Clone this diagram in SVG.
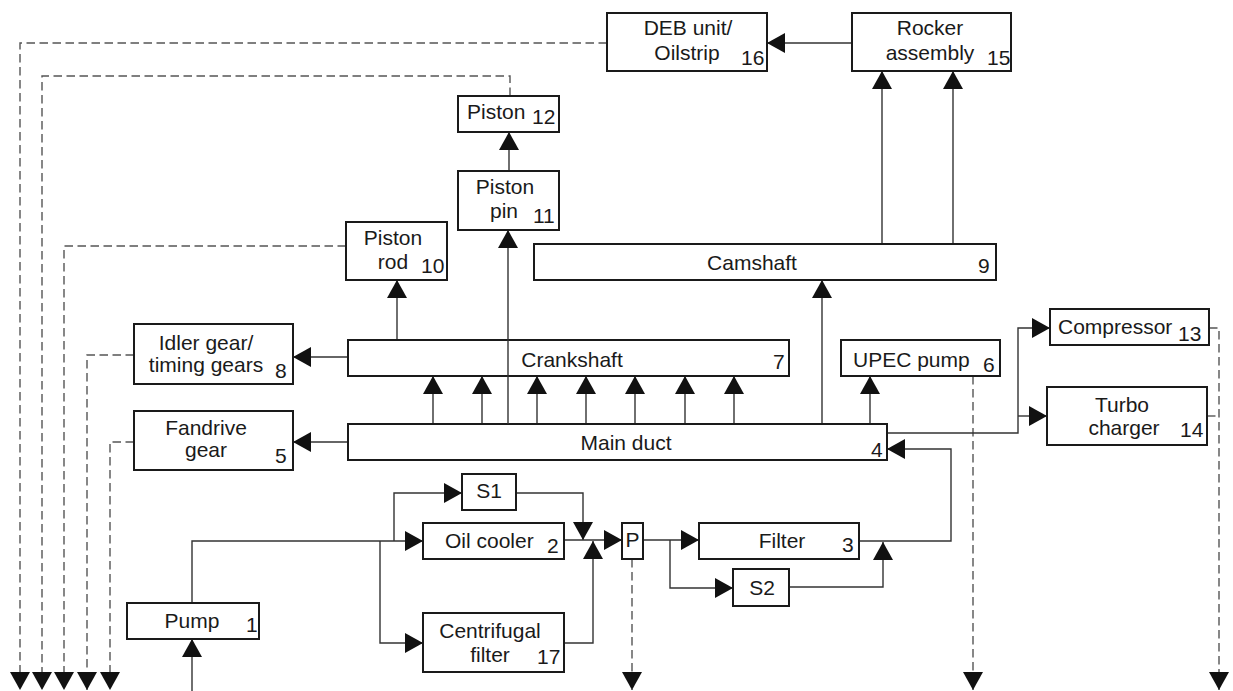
<svg xmlns="http://www.w3.org/2000/svg" width="1233" height="691" viewBox="0 0 1233 691">
  <style>
    .box { fill: #fff; stroke: #1a1a1a; stroke-width: 2; }
    .lbl { font-family: "Liberation Sans", Arial, sans-serif; font-size: 21px; fill: #1a1a1a; }
    .c { text-anchor: middle; }
    .num { font-family: "Liberation Sans", Arial, sans-serif; font-size: 21px; fill: #1a1a1a; }
    .flow { fill: none; stroke: #333; stroke-width: 1.4; }
    .ret { fill: none; stroke: #555; stroke-width: 1.4; stroke-dasharray: 8.5 4.5; }
    .arr { marker-end: url(#head); }
  </style>
  <defs>
    <marker id="head" markerUnits="userSpaceOnUse" viewBox="0 0 18 20" markerWidth="18" markerHeight="20" refX="18" refY="10" orient="auto">
      <path d="M0,0 L18,10 L0,20 Z" fill="#111"/>
    </marker>
  </defs>

  <rect width="1233" height="691" fill="#fff"/>

  <!-- connectors -->
  <g id="connectors">
    <!-- oil return lines to sump (dashed) -->
    <path class="ret arr" d="M607,43 H20 V690"/>
    <path class="ret arr" d="M510,96 V76 H42 V690"/>
    <path class="ret arr" d="M346,246 H64 V690"/>
    <path class="ret arr" d="M134,355 H87 V690"/>
    <path class="ret arr" d="M134,442 H110 V690"/>
    <path class="ret arr" d="M632,559 V690"/>
    <path class="ret arr" d="M973,376 V690"/>
    <path class="ret arr" d="M1209,328 H1219 V690"/>
    <path class="ret" d="M1207,416 H1219"/>

    <!-- pressure feed (solid) -->
    <path class="flow arr" d="M192,691 V639"/>
    <path class="flow arr" d="M192,603 V541 H423"/>
    <path class="flow arr" d="M394,541 V493 H462"/>
    <path class="flow arr" d="M380,541 V643 H423"/>
    <path class="flow arr" d="M516,493 H583 V540"/>
    <path class="flow arr" d="M564,643 H593 V541"/>
    <path class="flow arr" d="M564,540 H622"/>
    <path class="flow arr" d="M643,540 H699"/>
    <path class="flow arr" d="M670,540 V588 H733"/>
    <path class="flow arr" d="M789,587 H883 V542"/>
    <path class="flow arr" d="M859,541 H951 V449 H887"/>

    <!-- main duct outlets -->
    <path class="flow arr" d="M887,433 H1018 V328 H1050"/>
    <path class="flow arr" d="M1018,416 H1047"/>
    <path class="flow arr" d="M870,424 V376"/>
    <path class="flow arr" d="M822,424 V280"/>
    <path class="flow arr" d="M348,442 H293"/>
    <path class="flow arr" d="M433,424 V376"/>
    <path class="flow arr" d="M482,424 V376"/>
    <path class="flow arr" d="M537,424 V376"/>
    <path class="flow arr" d="M586,424 V376"/>
    <path class="flow arr" d="M635,424 V376"/>
    <path class="flow arr" d="M685,424 V376"/>
    <path class="flow arr" d="M734,424 V376"/>

    <!-- crankshaft outlets -->
    <path class="flow arr" d="M348,357 H293"/>
    <path class="flow arr" d="M397,340 V280"/>

    <!-- camshaft to rocker, rocker to DEB -->
    <path class="flow arr" d="M882,244 V71"/>
    <path class="flow arr" d="M953,244 V71"/>
    <path class="flow arr" d="M852,43 H767"/>

    <!-- piston pin to piston -->
    <path class="flow arr" d="M509,171 V132"/>
  </g>

  <g id="n4">
    <rect class="box" x="348" y="424" width="539" height="36"/>
    <text class="lbl c" x="626" y="450">Main duct</text>
    <text class="num" x="871" y="457">4</text>
  </g>

  <g id="n7">
    <rect class="box" x="348" y="340" width="441" height="36"/>
    <text class="lbl c" x="572" y="367">Crankshaft</text>
    <text class="num" x="773" y="369">7</text>
  </g>

  <!-- feed to piston pin runs through the crankshaft -->
  <g id="pin-feed">
    <path class="flow arr" d="M508,424 V230"/>
  </g>

  <g id="n1">
    <rect class="box" x="127" y="603" width="132" height="36"/>
    <text class="lbl c" x="192" y="628">Pump</text>
    <text class="num" x="246" y="632">1</text>
  </g>

  <g id="n2">
    <rect class="box" x="423" y="523" width="141" height="36"/>
    <text class="lbl" x="445" y="548">Oil cooler</text>
    <text class="num" x="547" y="553">2</text>
  </g>

  <g id="n3">
    <rect class="box" x="699" y="523" width="160" height="36"/>
    <text class="lbl c" x="782" y="548">Filter</text>
    <text class="num" x="842" y="552">3</text>
  </g>

  <g id="nS1">
    <rect class="box" x="462" y="474" width="54" height="36"/>
    <text class="lbl c" x="489" y="498">S1</text>
  </g>

  <g id="nS2">
    <rect class="box" x="733" y="569" width="56" height="37"/>
    <text class="lbl c" x="762" y="595">S2</text>
  </g>

  <g id="nP">
    <rect class="box" x="622" y="523" width="21" height="36"/>
    <text class="lbl c" x="632.5" y="547">P</text>
  </g>

  <g id="n17">
    <rect class="box" x="423" y="613" width="141" height="59"/>
    <text class="lbl c" x="490" y="638">Centrifugal</text>
    <text class="lbl c" x="490" y="662">filter</text>
    <text class="num" x="537" y="664">17</text>
  </g>

  <g id="n5">
    <rect class="box" x="134" y="411" width="159" height="59"/>
    <text class="lbl c" x="206" y="435">Fandrive</text>
    <text class="lbl c" x="206" y="457">gear</text>
    <text class="num" x="275" y="463">5</text>
  </g>

  <g id="n8">
    <rect class="box" x="134" y="324" width="159" height="60"/>
    <text class="lbl c" x="206" y="350">Idler gear/</text>
    <text class="lbl c" x="206" y="372">timing gears</text>
    <text class="num" x="275" y="378">8</text>
  </g>

  <g id="n6">
    <rect class="box" x="841" y="340" width="159" height="36"/>
    <text class="lbl" x="853" y="367">UPEC pump</text>
    <text class="num" x="983" y="372">6</text>
  </g>

  <g id="n13">
    <rect class="box" x="1050" y="309" width="159" height="36"/>
    <text class="lbl" x="1058" y="334">Compressor</text>
    <text class="num" x="1178" y="341">13</text>
  </g>

  <g id="n14">
    <rect class="box" x="1047" y="387" width="160" height="58"/>
    <text class="lbl c" x="1122" y="412">Turbo</text>
    <text class="lbl c" x="1124" y="435">charger</text>
    <text class="num" x="1180" y="437">14</text>
  </g>

  <g id="n9">
    <rect class="box" x="534" y="244" width="462" height="36"/>
    <text class="lbl c" x="752" y="270">Camshaft</text>
    <text class="num" x="978" y="273">9</text>
  </g>

  <g id="n10">
    <rect class="box" x="346" y="222" width="101" height="58"/>
    <text class="lbl c" x="393" y="245">Piston</text>
    <text class="lbl c" x="393" y="269">rod</text>
    <text class="num" x="421" y="273">10</text>
  </g>

  <g id="n11">
    <rect class="box" x="458" y="171" width="101" height="59"/>
    <text class="lbl c" x="505" y="194">Piston</text>
    <text class="lbl c" x="504" y="218">pin</text>
    <text class="num" x="533" y="223">11</text>
  </g>

  <g id="n12">
    <rect class="box" x="458" y="96" width="101" height="36"/>
    <text class="lbl" x="467" y="119">Piston</text>
    <text class="num" x="532" y="124">12</text>
  </g>

  <g id="n16">
    <rect class="box" x="607" y="13" width="160" height="58"/>
    <text class="lbl c" x="688" y="35">DEB unit/</text>
    <text class="lbl c" x="687" y="60">Oilstrip</text>
    <text class="num" x="741" y="65">16</text>
  </g>

  <g id="n15">
    <rect class="box" x="852" y="13" width="159" height="58"/>
    <text class="lbl c" x="930" y="35">Rocker</text>
    <text class="lbl c" x="930" y="60">assembly</text>
    <text class="num" x="987" y="65">15</text>
  </g>
</svg>
